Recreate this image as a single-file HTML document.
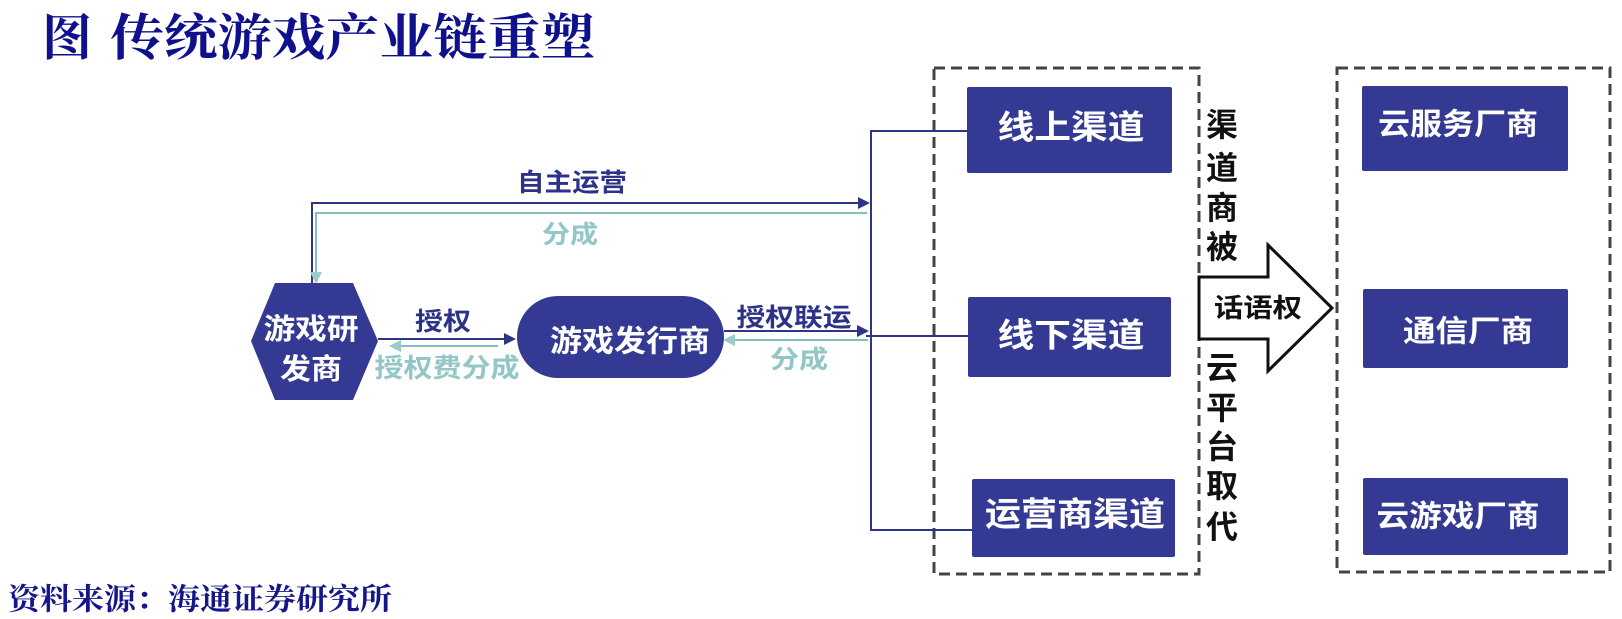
<!DOCTYPE html>
<html>
<head>
<meta charset="utf-8">
<style>
  html,body{margin:0;padding:0;background:#fff;}
  body{width:1622px;height:619px;overflow:hidden;}
  svg{display:block;}
  .cjk{font-family:"Liberation Sans","Noto Sans CJK SC","WenQuanYi Zen Hei",sans-serif;}
  .ser{font-family:"Liberation Serif","Noto Serif CJK SC","Noto Sans CJK SC",serif;}
</style>
</head>
<body>
<svg width="1622" height="619" viewBox="0 0 1622 619" xmlns="http://www.w3.org/2000/svg">
  <rect x="0" y="0" width="1622" height="619" fill="#ffffff"/>

  <!-- Title -->
  <text class="ser" x="42" y="38" font-size="50" font-weight="700" fill="#0f108c" dominant-baseline="central">图</text>
  <text class="ser" x="110" y="38" font-size="50" font-weight="700" fill="#0f108c" dominant-baseline="central" textLength="485" lengthAdjust="spacingAndGlyphs">传统游戏产业链重塑</text>

  <!-- Source -->
  <text class="ser" x="8" y="600" font-size="30" font-weight="700" fill="#15168a" dominant-baseline="central" textLength="384" lengthAdjust="spacingAndGlyphs">资料来源：海通证券研究所</text>

  <!-- Dashed boxes -->
  <rect x="934" y="68" width="265" height="506" fill="none" stroke="#444" stroke-width="3" stroke-dasharray="11 6"/>
  <rect x="1337" y="68" width="273" height="504" fill="none" stroke="#444" stroke-width="3" stroke-dasharray="11 6"/>

  <!-- Connector lines dark -->
  <g stroke="#2e3586" stroke-width="2" fill="none">
    <polyline points="312,283 312,203 862,203"/>
    <polyline points="967,131 871,131 871,530 972,530"/>
    <line x1="866" y1="336" x2="968" y2="336"/>
    <line x1="378" y1="339" x2="507" y2="339"/>
    <line x1="724" y1="331" x2="860" y2="331"/>
  </g>
  <g fill="#2e3586">
    <polygon points="870,203 858,197 858,209"/>
    <polygon points="516,339 504,333 504,345"/>
    <polygon points="869,331 857,325 857,337"/>
  </g>

  <!-- Connector lines teal -->
  <g stroke="#86bcbc" stroke-width="2" fill="none">
    <polyline points="867,213 316,213 316,274"/>
    <line x1="498" y1="346" x2="398" y2="346"/>
    <line x1="868" y1="340" x2="732" y2="340"/>
  </g>
  <g fill="#9ccaca">
    <polygon points="316,284 310,272 322,272"/>
    <polygon points="389,346 401,340 401,352"/>
    <polygon points="723,340 735,334 735,346"/>
  </g>

  <!-- Hexagon -->
  <polygon points="275,283 353,283 378,341 353,400 275,400 251,341" fill="#343a93"/>
  <text class="cjk" x="311" y="330" font-size="29" font-weight="700" fill="#fff" text-anchor="middle" dominant-baseline="central" textLength="95" lengthAdjust="spacingAndGlyphs">游戏研</text>
  <text class="cjk" x="311" y="370" font-size="29" font-weight="700" fill="#fff" text-anchor="middle" dominant-baseline="central" textLength="62" lengthAdjust="spacingAndGlyphs">发商</text>

  <!-- Pill -->
  <rect x="517" y="296" width="207" height="82" rx="41" ry="41" fill="#343a93"/>
  <text class="cjk" x="630" y="342" font-size="30" font-weight="700" fill="#fff" text-anchor="middle" dominant-baseline="central" textLength="160" lengthAdjust="spacingAndGlyphs">游戏发行商</text>

  <!-- Labels -->
  <text class="cjk" x="572" y="183" font-size="25" font-weight="700" fill="#2b3287" text-anchor="middle" dominant-baseline="central" textLength="110" lengthAdjust="spacingAndGlyphs">自主运营</text>
  <text class="cjk" x="570" y="235" font-size="25" font-weight="700" fill="#93c6c6" text-anchor="middle" dominant-baseline="central" textLength="56" lengthAdjust="spacingAndGlyphs">分成</text>
  <text class="cjk" x="443" y="322" font-size="25" font-weight="700" fill="#2b3287" text-anchor="middle" dominant-baseline="central" textLength="56" lengthAdjust="spacingAndGlyphs">授权</text>
  <text class="cjk" x="447" y="368" font-size="26" font-weight="700" fill="#93c6c6" text-anchor="middle" dominant-baseline="central" textLength="145" lengthAdjust="spacingAndGlyphs">授权费分成</text>
  <text class="cjk" x="794" y="318" font-size="25" font-weight="700" fill="#2b3287" text-anchor="middle" dominant-baseline="central" textLength="115" lengthAdjust="spacingAndGlyphs">授权联运</text>
  <text class="cjk" x="799" y="360" font-size="25" font-weight="700" fill="#93c6c6" text-anchor="middle" dominant-baseline="central" textLength="58" lengthAdjust="spacingAndGlyphs">分成</text>

  <!-- Channel boxes -->
  <rect x="967" y="87" width="205" height="86" rx="2" fill="#343a93"/>
  <text class="cjk" x="1071" y="127" font-size="33" font-weight="700" fill="#fff" text-anchor="middle" dominant-baseline="central" textLength="147" lengthAdjust="spacingAndGlyphs">线上渠道</text>
  <rect x="968" y="297" width="203" height="80" rx="2" fill="#343a93"/>
  <text class="cjk" x="1071" y="335" font-size="33" font-weight="700" fill="#fff" text-anchor="middle" dominant-baseline="central" textLength="147" lengthAdjust="spacingAndGlyphs">线下渠道</text>
  <rect x="972" y="479" width="203" height="78" rx="2" fill="#343a93"/>
  <text class="cjk" x="1075" y="514" font-size="33" font-weight="700" fill="#fff" text-anchor="middle" dominant-baseline="central" textLength="180" lengthAdjust="spacingAndGlyphs">运营商渠道</text>

  <!-- Vendor boxes -->
  <rect x="1362" y="86" width="206" height="85" rx="2" fill="#343a93"/>
  <text class="cjk" x="1458" y="125" font-size="30" font-weight="700" fill="#fff" text-anchor="middle" dominant-baseline="central" textLength="160" lengthAdjust="spacingAndGlyphs">云服务厂商</text>
  <rect x="1363" y="289" width="205" height="79" rx="2" fill="#343a93"/>
  <text class="cjk" x="1468" y="332" font-size="30" font-weight="700" fill="#fff" text-anchor="middle" dominant-baseline="central" textLength="130" lengthAdjust="spacingAndGlyphs">通信厂商</text>
  <rect x="1363" y="478" width="205" height="77" rx="2" fill="#343a93"/>
  <text class="cjk" x="1458" y="517" font-size="30" font-weight="700" fill="#fff" text-anchor="middle" dominant-baseline="central" textLength="163" lengthAdjust="spacingAndGlyphs">云游戏厂商</text>

  <!-- Block arrow -->
  <polygon points="1199,277 1268,277 1268,245 1332,308 1268,371 1268,339 1199,339" fill="#fff" stroke="#111" stroke-width="3" stroke-linejoin="miter"/>
  <text class="cjk" x="1258" y="308" font-size="26" font-weight="700" fill="#111" text-anchor="middle" dominant-baseline="central" textLength="88" lengthAdjust="spacingAndGlyphs">话语权</text>

  <!-- Vertical text -->
  <g class="cjk" font-size="32" font-weight="700" fill="#111" text-anchor="middle" dominant-baseline="central">
    <text x="1222" y="125">渠</text>
    <text x="1222" y="168">道</text>
    <text x="1222" y="208">商</text>
    <text x="1222" y="247">被</text>
    <text x="1222" y="368">云</text>
    <text x="1222" y="408">平</text>
    <text x="1222" y="447">台</text>
    <text x="1222" y="486">取</text>
    <text x="1222" y="527">代</text>
  </g>
</svg>
</body>
</html>
